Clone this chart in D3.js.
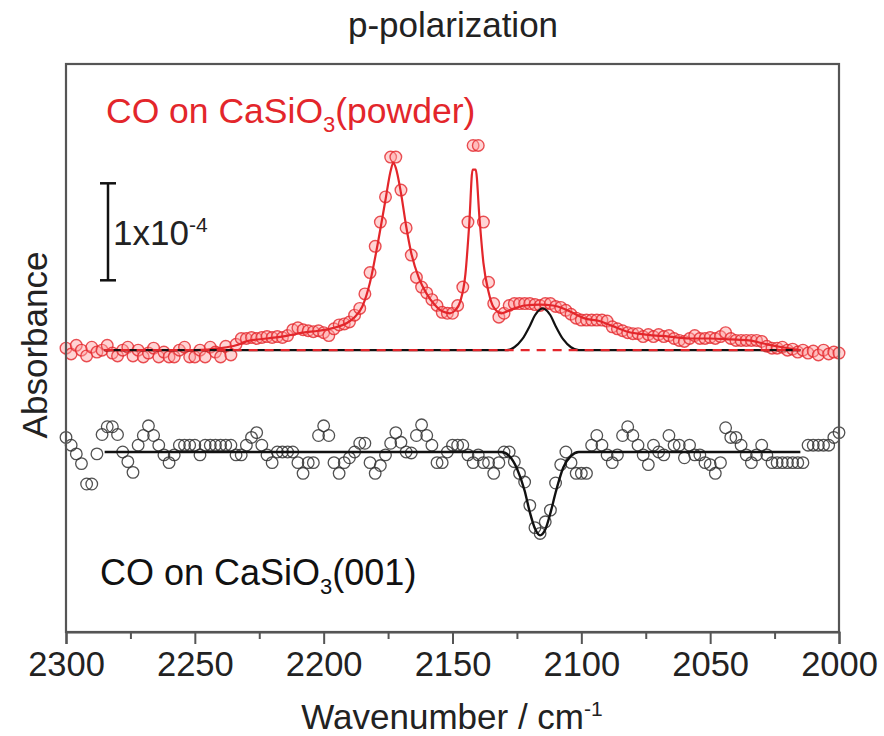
<!DOCTYPE html>
<html><head><meta charset="utf-8">
<script src="https://cdn.jsdelivr.net/npm/d3@7"></script>
<style>body{margin:0;background:#fff} text{font-family:"Liberation Sans",Arial,sans-serif}</style>
</head><body><svg id="c" width="884" height="736"></svg>
<script>
// ---- data (absorbance in units of 1e-4) ----
const wavenumbers = [2300,2298,2296,2294,2292,2290,2288,2286,2284,2282,
2280,2278,2276,2274,2272,2270,2268,2266,2264,2262,
2260,2258,2256,2254,2252,2250,2248,2246,2244,2242,
2240,2238,2236,2234,2232,2230,2228,2226,2224,2222,
2220,2218,2216,2214,2212,2210,2208,2206,2204,2202,
2200,2198,2196,2194,2192,2190,2188,2186,2184,2182,
2180,2178,2176,2174,2172,2170,2168,2166,2164,2162,
2160,2158,2156,2154,2152,2150,2148,2146,2144,2142,
2140,2138,2136,2134,2132,2130,2128,2126,2124,2122,
2120,2118,2116,2114,2112,2110,2108,2106,2104,2102,
2100,2098,2096,2094,2092,2090,2088,2086,2084,2082,
2080,2078,2076,2074,2072,2070,2068,2066,2064,2062,
2060,2058,2056,2054,2052,2050,2048,2046,2044,2042,
2040,2038,2036,2034,2032,2030,2028,2026,2024,2022,
2020,2018,2016,2014,2012,2010,2008,2006,2004,2002,
2000];
const powderData = [0.02,-0.04,0.05,0.00,-0.06,0.03,-0.02,0.00,0.05,-0.03,
-0.06,0.00,0.03,-0.06,0.00,-0.07,-0.03,0.02,-0.07,-0.02,
-0.07,-0.07,0.00,0.03,-0.07,-0.07,0.00,-0.07,0.03,-0.02,
-0.07,0.04,-0.05,0.06,0.12,0.12,0.13,0.12,0.13,0.14,
0.13,0.14,0.13,0.15,0.21,0.23,0.21,0.20,0.19,0.20,
0.18,0.15,0.22,0.26,0.27,0.29,0.36,0.43,0.58,0.80,
1.07,1.32,1.58,1.99,1.99,1.65,1.26,0.98,0.75,0.65,
0.59,0.52,0.46,0.39,0.38,0.38,0.46,0.65,1.32,2.11,
2.11,1.32,0.70,0.48,0.34,0.38,0.46,0.48,0.48,0.48,
0.48,0.47,0.46,0.48,0.48,0.45,0.44,0.41,0.37,0.33,
0.31,0.31,0.31,0.31,0.31,0.30,0.24,0.22,0.20,0.18,
0.17,0.17,0.14,0.16,0.14,0.16,0.14,0.15,0.12,0.10,
0.09,0.12,0.15,0.12,0.12,0.13,0.12,0.14,0.18,0.12,
0.10,0.10,0.10,0.10,0.10,0.09,0.04,0.02,0.02,0.03,
0.00,0.01,-0.02,0.00,-0.03,-0.01,-0.05,0.00,-0.04,-0.02,
-0.03];
const crystalData = [0.15,0.07,-0.02,-0.12,-0.33,-0.33,-0.02,0.18,0.26,0.26,
0.18,0.00,-0.10,-0.21,0.07,0.17,0.27,0.17,0.07,-0.03,
-0.11,-0.03,0.07,0.07,0.07,0.07,-0.03,0.07,0.07,0.07,
0.07,0.07,0.07,-0.03,-0.03,0.07,0.15,0.20,0.07,-0.03,
-0.11,0.00,0.00,0.00,0.00,-0.11,-0.22,-0.11,-0.11,0.17,
0.27,0.17,-0.11,-0.22,-0.11,-0.06,0.00,0.09,0.09,-0.11,
-0.22,-0.14,-0.03,0.09,0.20,0.10,0.00,-0.01,0.17,0.28,
0.17,0.07,-0.11,-0.11,0.00,0.07,0.07,0.07,-0.03,-0.11,
-0.03,-0.11,-0.11,-0.22,-0.11,0.00,0.00,-0.10,-0.22,-0.31,
-0.55,-0.78,-0.84,-0.72,-0.60,-0.32,-0.13,0.00,-0.11,-0.22,
-0.22,-0.22,0.07,0.17,0.07,-0.03,-0.11,-0.03,0.17,0.26,
0.17,0.07,-0.03,-0.13,0.07,0.00,-0.03,0.17,0.07,0.07,
-0.06,0.07,-0.03,-0.03,-0.11,-0.13,-0.22,-0.11,0.25,0.15,
0.15,0.07,-0.03,-0.11,-0.03,0.07,-0.03,-0.11,-0.11,-0.11,
-0.11,-0.11,-0.11,-0.11,0.07,0.07,0.07,0.07,0.07,0.15,
0.20];
const powderFitW = [2285,2250,2240,2234,2230,2222,2214,2208,2202,2196,2191,2188,2185,2182,2179,2176,2174,2173,2172,2170,2168,2166,2163,2160,2157,2154,2151,2149,2147,2145,2143.5,2142.2,2141,2139.5,2138,2136,2134,2131,2127,2122,2116,2111,2107,2103,2099,2093,2088,2082,2075,2066,2058,2050,2042,2035,2028,2022,2015];
const powderFitV = [0,0,0.02,0.05,0.09,0.12,0.15,0.18,0.20,0.23,0.28,0.34,0.45,0.70,1.10,1.55,1.85,1.93,1.88,1.62,1.28,1.00,0.74,0.58,0.47,0.40,0.38,0.41,0.50,0.78,1.30,1.86,1.86,1.35,0.90,0.60,0.44,0.38,0.42,0.46,0.47,0.46,0.43,0.38,0.33,0.30,0.25,0.19,0.16,0.14,0.12,0.12,0.11,0.10,0.06,0.03,0.00];
const componentW = [2285,2129,2126,2123,2120,2118,2116,2115,2114,2112,2110,2107,2104,2101,2015];
const componentV = [0,0,0.03,0.11,0.25,0.36,0.42,0.43,0.42,0.36,0.25,0.11,0.03,0,0];
const crystalFitW = [2285,2131,2128,2125,2122,2120,2118,2116,2114,2112,2110,2107,2104,2101,2015];
const crystalFitV = [0,0,-0.04,-0.17,-0.40,-0.62,-0.79,-0.86,-0.80,-0.63,-0.42,-0.16,-0.04,0,0];
const baselineW = [2285,2015];
const baselineV = [0,0];
const powderOffset = 1.05;
const majorTicks = [2300,2250,2200,2150,2100,2050,2000];
const minorTicks = [2275,2225,2175,2125,2075,2025];
const scaleBar = [1.77,2.77];

// ---- drawing ----
const svg = d3.select("#c");
const L=66,R=839,T=64,B=632;
const x = d3.scaleLinear().domain([2300,2000]).range([L,R]);
const y = d3.scaleLinear().domain([-1.856,4.0]).range([B,T]);
const RED = "#e3262b";
const FS = 35;

const line = d3.line().x(d=>x(d[0])).y(d=>y(d[1])).curve(d3.curveMonotoneX);
const zip = (w,v,off)=>w.map((d,i)=>[d,v[i]+off]);

// red data markers
svg.append("g").selectAll("circle").data(zip(wavenumbers,powderData,powderOffset)).join("circle")
  .attr("cx",d=>x(d[0])).attr("cy",d=>y(d[1])).attr("r",5.8)
  .attr("fill","rgba(255,160,160,0.45)").attr("stroke",RED).attr("stroke-opacity",0.8).attr("stroke-width",1.4);
// black data markers
svg.append("g").selectAll("circle").data(zip(wavenumbers,crystalData,0)).join("circle")
  .attr("cx",d=>x(d[0])).attr("cy",d=>y(d[1])).attr("r",5.8)
  .attr("fill","none").attr("stroke","#333").attr("stroke-opacity",0.85).attr("stroke-width",1.3);

// fits
svg.append("path").attr("d",line(zip(powderFitW,powderFitV,powderOffset)))
  .attr("fill","none").attr("stroke",RED).attr("stroke-width",2.2);
svg.append("path").attr("d",line(zip(componentW,componentV,powderOffset)))
  .attr("fill","none").attr("stroke","#111").attr("stroke-width",2.2);
svg.append("path").attr("d",line(zip(baselineW,baselineV,powderOffset)))
  .attr("fill","none").attr("stroke",RED).attr("stroke-width",2.4).attr("stroke-dasharray","9,7");
svg.append("path").attr("d",line(zip(crystalFitW,crystalFitV,0)))
  .attr("fill","none").attr("stroke","#111").attr("stroke-width",2.4);

// frame
svg.append("rect").attr("x",L).attr("y",T).attr("width",R-L).attr("height",B-T)
  .attr("fill","none").attr("stroke","#555").attr("stroke-width",2.2);

// axis
const ax = svg.append("g").attr("transform",`translate(0,${B})`)
  .call(d3.axisBottom(x).tickValues(majorTicks).tickSize(12).tickPadding(8).tickFormat(d3.format("d")));
ax.select(".domain").attr("stroke","#555").attr("stroke-width",2.2);
ax.selectAll(".tick line").attr("stroke","#555").attr("stroke-width",2);
ax.selectAll(".tick text").attr("font-size",34.5).attr("fill","#222").attr("font-family","Liberation Sans, Arial, sans-serif");
const axm = svg.append("g").attr("transform",`translate(0,${B})`)
  .call(d3.axisBottom(x).tickValues(minorTicks).tickSize(7).tickFormat(""));
axm.select(".domain").remove();
axm.selectAll(".tick line").attr("stroke","#555").attr("stroke-width",2);

// scale bar
const sbx = 108;
const sb = svg.append("g").attr("stroke","#111").attr("stroke-width",2.5);
sb.append("line").attr("x1",sbx).attr("x2",sbx).attr("y1",y(scaleBar[0])).attr("y2",y(scaleBar[1]));
sb.append("line").attr("x1",sbx-8).attr("x2",sbx+8).attr("y1",y(scaleBar[0])).attr("y2",y(scaleBar[0]));
sb.append("line").attr("x1",sbx-8).attr("x2",sbx+8).attr("y1",y(scaleBar[1])).attr("y2",y(scaleBar[1]));
const sbt = svg.append("text").attr("x",113).attr("y",245).attr("font-size",FS).attr("fill","#222");
sbt.append("tspan").text("1x10");
sbt.append("tspan").attr("dy",-13).attr("font-size",21).text("-4");

// labels
const t1 = svg.append("text").attr("x",106).attr("y",123).attr("font-size",35.5).attr("fill",RED);
t1.append("tspan").text("CO on CaSiO");
t1.append("tspan").attr("dy",9).attr("font-size",22).text("3");
t1.append("tspan").attr("dy",-9).text("(powder)");
const t2 = svg.append("text").attr("x",100).attr("y",585).attr("font-size",36).attr("fill","#111");
t2.append("tspan").text("CO on CaSiO");
t2.append("tspan").attr("dy",9).attr("font-size",22).text("3");
t2.append("tspan").attr("dy",-9).text("(001)");

svg.append("text").attr("x",453).attr("y",37).attr("text-anchor","middle").attr("font-size",FS).attr("fill","#222").text("p-polarization");
const xt = svg.append("text").attr("x",452).attr("y",729).attr("text-anchor","middle").attr("font-size",FS).attr("fill","#222");
xt.append("tspan").text("Wavenumber / cm");
xt.append("tspan").attr("dy",-13).attr("font-size",21).text("-1");
svg.append("text").attr("transform","translate(47,345) rotate(-90)").attr("text-anchor","middle").attr("font-size",FS).attr("fill","#222").text("Absorbance");
</script></body></html>
